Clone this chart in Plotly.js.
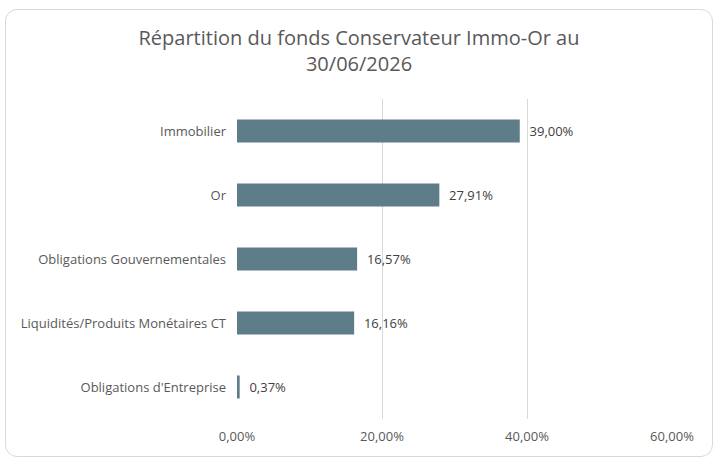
<!DOCTYPE html>
<html>
<head>
<meta charset="utf-8">
<script src="https://cdn.plot.ly/plotly-3.0.1.min.js"></script>
<style>
  body { margin: 0; background: #fff; }
  #frame {
    position: absolute; left: 5px; top: 9px; width: 706px; height: 446px;
    border: 1px solid #d9d9d9; border-radius: 12px;
  }
  #chart { position: absolute; left: 0; top: 0; width: 718px; height: 463px; }
</style>
</head>
<body>
<div id="frame"></div>
<div id="chart"></div>
<script>
const categories = [
    "Immobilier",
    "Or",
    "Obligations Gouvernementales",
    "Liquidités/Produits Monétaires CT",
    "Obligations d'Entreprise"
];
const shares = [0.39, 0.2791, 0.1657, 0.1616, 0.0037];
const tickValues = [0, 0.2, 0.4, 0.6];

// labels with a French decimal comma
let labels = shares.map(v => "  " + (v * 100).toFixed(2).replace(".", ",") + "%");

let data = [{
    type: 'bar',
    orientation: 'h',
    x: shares,
    y: categories,
    marker: { color: '#5e7d89' },
    text: labels,
    textposition: 'outside',
    textfont: { family: 'Open Sans, sans-serif', size: 13, color: '#404040' },
    cliponaxis: false,
    hoverinfo: 'none'
}];

let layout = {
    width: 718,
    height: 463,
    paper_bgcolor: 'rgba(0,0,0,0)',
    plot_bgcolor: 'rgba(0,0,0,0)',
    margin: { l: 237, r: 46, t: 99, b: 44 },
    separators: ',.',
    bargap: 0.64,
    font: { family: 'Open Sans, sans-serif', color: '#595959' },
    title: {
        text: 'Répartition du fonds Conservateur Immo-Or au<br>30/06/2026',
        font: { size: 20, color: '#595959' },
        x: 0.5,
        xref: 'container',
        xanchor: 'center',
        y: 0.903,
        yref: 'container',
        yanchor: 'top'
    },
    xaxis: {
        range: [0, 0.6],
        tickvals: tickValues,
        tickformat: '.2%',
        showgrid: true,
        gridcolor: '#d9d9d9',
        zeroline: false,
        showline: false,
        ticks: '',
        tickfont: { size: 13, color: '#595959' },
        ticklabelstandoff: 8
    },
    yaxis: {
        autorange: 'reversed',
        showgrid: false,
        zeroline: false,
        showline: false,
        ticks: '',
        ticklabelstandoff: 10,
        tickfont: { size: 13, color: '#595959' }
    },
    showlegend: false
};

Plotly.newPlot('chart', data, layout, { staticPlot: true });
</script>
</body>
</html>
